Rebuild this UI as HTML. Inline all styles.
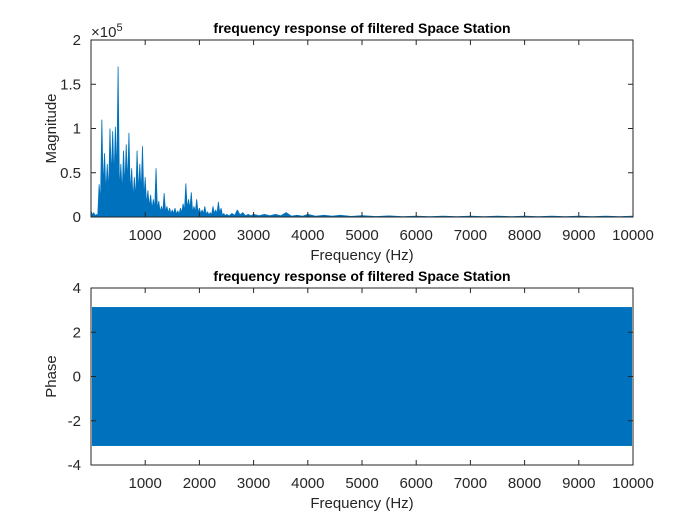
<!DOCTYPE html>
<html><head><meta charset="utf-8"><style>
html,body{margin:0;padding:0;background:#fff;}
svg{display:block;font-family:"Liberation Sans",Arial,sans-serif;}
</style></head><body>
<svg id="fig" width="700" height="525" viewBox="0 0 700 525"></svg>
<script>
// ---- data ----
const magFreqs = [0,50,100,150,200,250,300,350,400,450,500,550,600,650,700,750,800,850,900,950,1000,1050,1100,1150,1200,1250,1300,1350,1400,1450,1500,1550,1600,1650,1700,1750,1800,1850,1900,1950,2000,2050,2100,2150,2200,2250,2300,2350,2400,2450,2500,2600,2700,2800,2900,3000,3200,3400,3600,3800,4000,4300,4600,5000,5500,6000,6500,7000,7500,8000,8500,9000,9500,10000];
const magPeaks = [0.07,0.05,0.03,0.37,1.1,0.72,0.6,1.0,0.97,1.02,1.7,0.6,0.75,0.82,0.95,0.55,0.45,0.75,0.6,0.8,0.45,0.3,0.25,0.2,0.55,0.18,0.12,0.27,0.12,0.1,0.08,0.1,0.07,0.1,0.15,0.38,0.2,0.28,0.12,0.2,0.1,0.08,0.12,0.06,0.05,0.12,0.08,0.17,0.1,0.04,0.03,0.04,0.08,0.05,0.03,0.03,0.03,0.03,0.05,0.02,0.03,0.02,0.02,0.015,0.012,0.01,0.01,0.01,0.01,0.01,0.01,0.01,0.01,0.01];
const phaseMax = [3.14];
const phaseMin = [-3.14];
const xTicks = [1000,2000,3000,4000,5000,6000,7000,8000,9000,10000];
const magTicks = [0,0.5,1,1.5,2];
const magTickLabels = ["0","0.5","1","1.5","2"];
const phaseTicks = [-4,-2,0,2,4];
const phaseTickLabels = ["-4","-2","0","2","4"];

const NS="http://www.w3.org/2000/svg";
const svg=document.getElementById('fig');
function el(tag,attrs,parent){const e=document.createElementNS(NS,tag);for(const k in attrs)e.setAttribute(k,attrs[k]);(parent||svg).appendChild(e);return e;}

const L=91,R=633,FS=15;
const xs=v=>L+(v/10000)*(R-L);
function axes(top,bot,ymin,ymax,ticks,labels,ylabel,name){
  const ys=v=>bot-(v-ymin)/(ymax-ymin)*(bot-top);
  const g=el('g',{});
  
  
  return {g,ys,top,bot,ticks,labels,ylabel,name};
}
function frame(a){
  const {g,ys,top,bot}=a;
  el('rect',{x:L,y:top,width:R-L,height:bot-top,fill:'none',stroke:'#262626','stroke-width':1},g);
  xTicks.forEach((t)=>{
    const x=xs(t);
    el('line',{x1:x,x2:x,y1:bot,y2:bot-5,stroke:'#262626'},g);
    el('line',{x1:x,x2:x,y1:top,y2:top+5,stroke:'#262626'},g);
    const tx=el('text',{x:x,y:bot+23,'text-anchor':'middle','font-size':FS,fill:'#262626'},g);
    tx.textContent=t;
    
    
  });
  a.ticks.forEach((t,i)=>{
    const y=ys(t);
    el('line',{x1:L,x2:L+5,y1:y,y2:y,stroke:'#262626'},g);
    el('line',{x1:R,x2:R-5,y1:y,y2:y,stroke:'#262626'},g);
    const tx=el('text',{x:L-10,y:y+5,'text-anchor':'end','font-size':FS,fill:'#262626'},g);
    tx.textContent=a.labels[i];
    
    
  });
  const yl=el('text',{x:0,y:0,transform:`translate(${L-35},${(top+bot)/2}) rotate(-90)`,'text-anchor':'middle','font-size':FS,fill:'#262626'},g);
  yl.textContent=a.ylabel;
  
  
  const xl=el('text',{x:(L+R)/2,y:bot+43,'text-anchor':'middle','font-size':FS,fill:'#262626'},g);
  xl.textContent='Frequency (Hz)';
  
  
  const ti=el('text',{x:(L+R)/2,y:top-7,'text-anchor':'middle','font-size':FS-1,'font-weight':'bold',fill:'#000'},g);
  ti.textContent='frequency response of filtered Space Station';
  
  
}

// top: magnitude
const A=axes(40,217,0,2,magTicks,magTickLabels,'Magnitude','magnitude-axes');
let d=`M${xs(0)},${A.ys(0)}`;
for(let i=0;i<magFreqs.length;i++){
  const x=xs(magFreqs[i]);
  const next=i+1<magFreqs.length?xs(magFreqs[i+1]):x;
  const low=Math.min(magPeaks[i],magPeaks[i+1]??magPeaks[i])*0.45;
  d+=`L${x},${A.ys(magPeaks[i])}L${(x+next)/2},${A.ys(low)}`;
}
d+=`L${xs(10000)},${A.ys(0)}Z`;
const mp=el('path',{d:d,fill:'#0072BD',stroke:'#0072BD','stroke-width':0.8,'stroke-linejoin':'bevel'},A.g);


frame(A);
const ex=el('text',{x:L,y:37,'font-size':15,fill:'#262626'},A.g);
ex.innerHTML='×10<tspan dy="-6" font-size="11">5</tspan>';



// bottom: phase
const B=axes(288,465,-4,4,phaseTicks,phaseTickLabels,'Phase','phase-axes');
const pr=el('rect',{x:xs(0)+1,y:B.ys(phaseMax[0]),width:xs(10000)-xs(0)-2,height:B.ys(phaseMin[0])-B.ys(phaseMax[0]),fill:'#0072BD'},B.g);


frame(B);
</script>
</body></html>
